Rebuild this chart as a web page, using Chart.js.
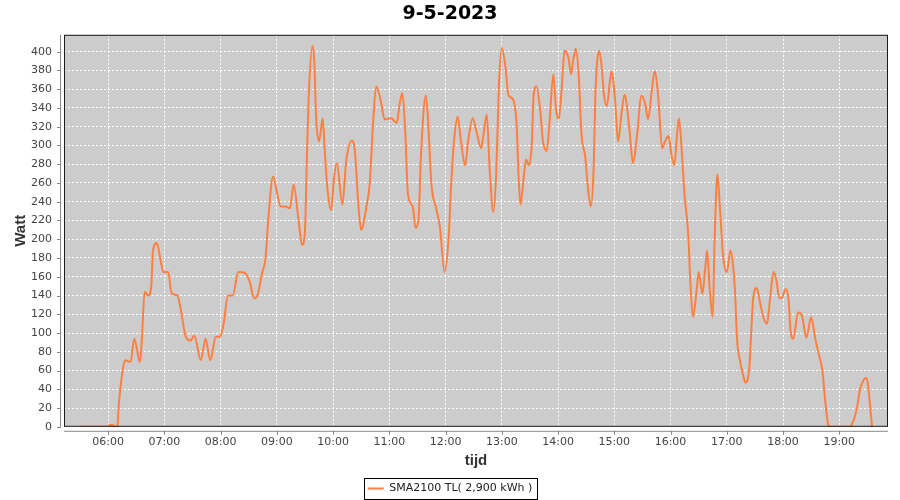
<!DOCTYPE html>
<html lang="nl">
<head>
<meta charset="UTF-8">
<title>9-5-2023</title>
<script src="https://cdn.jsdelivr.net/npm/chart.js@4.4.0/dist/chart.umd.min.js"></script>
<style>
  html, body { margin: 0; padding: 0; background: #fff; }
  #wrap { width: 900px; height: 500px; }
</style>
</head>
<body>
<div id="wrap"><canvas id="chart" width="900" height="500"></canvas></div>
<script>
// opbrengst per tijdstip (uu:mm -> watt)
const times = [
  '05:30','06:00','06:02','06:05','06:07','06:10','06:11','06:13','06:15','06:18',
  '06:24','06:28','06:34','06:36','06:39','06:43','06:46','06:48','06:52','06:56',
  '06:59','07:04','07:08','07:14','07:17','07:23','07:28','07:32','07:39','07:44',
  '07:49','07:55','07:59','08:03','08:08','08:13','08:19','08:26','08:31','08:36',
  '08:40','08:44','08:48','08:51','08:56','09:00','09:04','09:09','09:14','09:18',
  '09:23','09:27','09:30','09:32','09:34','09:38','09:40','09:42','09:45','09:49',
  '09:51','09:54','09:58','10:01','10:04','10:10','10:14','10:20','10:23','10:27',
  '10:30','10:36','10:39','10:43','10:46','10:51','10:55','11:02','11:08','11:11',
  '11:14','11:17','11:20','11:25','11:28','11:31','11:34','11:39','11:41','11:45',
  '11:50','11:54','11:59','12:03','12:06','12:09','12:13','12:16','12:21','12:24',
  '12:29','12:33','12:38','12:40','12:44','12:47','12:51','12:54','12:57','13:00',
  '13:04','13:07','13:12','13:16','13:18','13:20','13:23','13:26','13:29','13:32',
  '13:34','13:37','13:41','13:44','13:48','13:51','13:55','13:58','14:01','14:04',
  '14:07','14:11','14:14','14:16','14:19','14:22','14:25','14:29','14:32','14:35',
  '14:38','14:40','14:44','14:47','14:49','14:52','14:57','15:01','15:04','15:08',
  '15:11','15:16','15:20','15:24','15:29','15:33','15:36','15:40','15:43','15:47',
  '15:51','15:54','15:58','16:01','16:04','16:07','16:09','16:12','16:15','16:19',
  '16:21','16:24','16:28','16:30','16:34','16:37','16:39','16:42','16:45','16:47',
  '16:50','16:53','16:56','17:00','17:04','17:07','17:09','17:11','17:14','17:18',
  '17:20','17:24','17:26','17:28','17:32','17:35','17:39','17:43','17:46','17:50',
  '17:53','17:56','17:59','18:03','18:06','18:08','18:11','18:16','18:20','18:25',
  '18:30','18:34','18:38','18:42','18:45','18:48','18:50','19:11','19:15','19:19',
  '19:22','19:26','19:29','19:31','19:33','19:35'
];
const watts = [
  0, 0, 2, 2, 0, 0, 17, 40, 56, 71,
  69, 94, 69, 92, 144, 140, 149, 188, 196, 178,
  165, 165, 142, 140, 128, 96, 92, 97, 71, 94,
  71, 96, 96, 108, 140, 140, 165, 164, 155, 137,
  142, 163, 180, 222, 267, 251, 235, 235, 233, 258,
  222, 194, 208, 283, 351, 406, 390, 329, 304, 329,
  297, 254, 231, 265, 281, 237, 283, 305, 297, 237,
  210, 237, 258, 329, 363, 347, 328, 329, 324, 344,
  356, 315, 247, 235, 212, 219, 294, 353, 333, 258,
  233, 213, 165, 197, 258, 304, 331, 308, 279, 304,
  329, 315, 297, 308, 333, 276, 229, 269, 365, 404,
  383, 354, 349, 319, 265, 237, 262, 285, 279, 301,
  354, 363, 337, 304, 294, 326, 376, 337, 329, 362,
  401, 394, 376, 390, 403, 376, 312, 288, 254, 235,
  276, 358, 401, 379, 354, 342, 379, 347, 304, 337,
  354, 319, 281, 308, 353, 344, 328, 358, 379, 351,
  297, 304, 310, 290, 279, 312, 329, 294, 247, 204,
  158, 117, 147, 165, 142, 169, 188, 144, 117, 197,
  269, 229, 183, 165, 188, 169, 140, 93, 71, 53,
  47, 63, 99, 135, 148, 135, 117, 110, 135, 165,
  156, 137, 138, 147, 135, 103, 94, 122, 119, 95,
  117, 96, 78, 60, 28, 3, 0, 0, 6, 21,
  39, 50, 52, 42, 21, 0
];
const hourLabels = ['06:00','07:00','08:00','09:00','10:00','11:00','12:00',
  '13:00','14:00','15:00','16:00','17:00','18:00','19:00'];

const toMin = s => { const p = s.split(':'); return (+p[0]) * 60 + (+p[1]); };
const pad2 = n => String(n).padStart(2, '0');

const points = times.map((t, i) => ({ x: toMin(t), y: watts[i] }));

const frame = {
  id: 'frame',
  beforeDraw(chart) {
    const { ctx, chartArea: a } = chart;
    ctx.save();
    ctx.fillStyle = '#cccccc';
    ctx.fillRect(a.left, a.top, a.right - a.left, a.bottom - a.top);
    ctx.restore();
  },
  afterDraw(chart) {
    const { ctx, chartArea: a, scales } = chart;
    ctx.save();
    ctx.lineWidth = 1;
    ctx.strokeStyle = '#1a1a1a';
    ctx.strokeRect(a.left + 0.5, a.top + 0.5, a.right - a.left - 1, a.bottom - a.top - 1);

    // losse assen, een paar pixels van het plotvlak af
    ctx.strokeStyle = '#888';
    ctx.beginPath();
    ctx.moveTo(a.left - 3.5, a.top);
    ctx.lineTo(a.left - 3.5, a.bottom);
    ctx.moveTo(a.left, a.bottom + 4.5);
    ctx.lineTo(a.right, a.bottom + 4.5);
    scales.y.ticks.forEach(t => {
      const py = Math.round(scales.y.getPixelForValue(t.value)) + 0.5;
      ctx.moveTo(a.left - 7, py);
      ctx.lineTo(a.left - 3, py);
    });
    scales.x.ticks.forEach(t => {
      const px = Math.round(scales.x.getPixelForValue(t.value)) + 0.5;
      ctx.moveTo(px, a.bottom + 4);
      ctx.lineTo(px, a.bottom + 8);
    });
    ctx.stroke();

    // kader om de legenda
    const hb = chart.legend.legendHitBoxes[0];
    if (hb) {
      ctx.strokeStyle = '#000';
      ctx.strokeRect(Math.round(hb.left - 4) + 0.5, Math.round(hb.top - 5) + 0.5,
        Math.round(hb.width + 8), Math.round(hb.height + 10));
    }
    ctx.restore();
  }
};

new Chart(document.getElementById('chart'), {
  type: 'line',
  data: {
    datasets: [{
      label: 'SMA2100 TL( 2,900 kWh )',
      data: points,
      borderColor: '#ff7f3f',
      backgroundColor: '#ff7f3f',
      borderWidth: 2,
      pointRadius: 0,
      cubicInterpolationMode: 'monotone',
      fill: false
    }]
  },
  options: {
    responsive: false,
    animation: false,
    layout: { padding: { left: 12, right: 12, top: 0, bottom: -4 } },
    plugins: {
      title: {
        display: true,
        text: '9-5-2023',
        color: '#000',
        font: { family: 'DejaVu Sans', size: 19, weight: 'bold' },
        padding: { top: 3, bottom: 9 }
      },
      legend: {
        position: 'bottom',
        labels: {
          usePointStyle: true,
          pointStyle: 'line',
          pointStyleWidth: 16,
          color: '#222',
          font: { family: 'DejaVu Sans', size: 11 },
          padding: 10
        }
      },
      tooltip: { enabled: false }
    },
    scales: {
      x: {
        type: 'linear',
        min: 313,
        max: 1192,
        afterBuildTicks: s => { s.ticks = hourLabels.map(l => ({ value: toMin(l) })); },
        ticks: {
          color: '#444',
          font: { family: 'DejaVu Sans', size: 11 },
          padding: 1,
          maxRotation: 0,
          callback: v => pad2(Math.floor(v / 60)) + ':' + pad2(v % 60)
        },
        grid: { color: '#ffffff', lineWidth: 1, drawTicks: true, tickLength: 8, tickColor: 'transparent' },
        border: { display: false, dash: [2, 2] },
        title: {
          display: true,
          text: 'tijd',
          color: '#333',
          font: { family: 'Liberation Sans', size: 15, weight: 'bold' },
          padding: { top: 2, bottom: 3 }
        }
      },
      y: {
        min: 0,
        max: 418,
        ticks: {
          stepSize: 20,
          includeBounds: false,
          color: '#444',
          font: { family: 'DejaVu Sans', size: 11 },
          padding: 4
        },
        grid: { color: '#ffffff', lineWidth: 1, drawTicks: true, tickLength: 8, tickColor: 'transparent' },
        border: { display: false, dash: [2, 2] },
        title: {
          display: true,
          text: 'Watt',
          color: '#333',
          font: { family: 'Liberation Sans', size: 15, weight: 'bold' },
          padding: { top: 0, bottom: 6 }
        },
        afterFit: s => { s.width = 52; }
      }
    }
  },
  plugins: [frame]
});
</script>
</body>
</html>
